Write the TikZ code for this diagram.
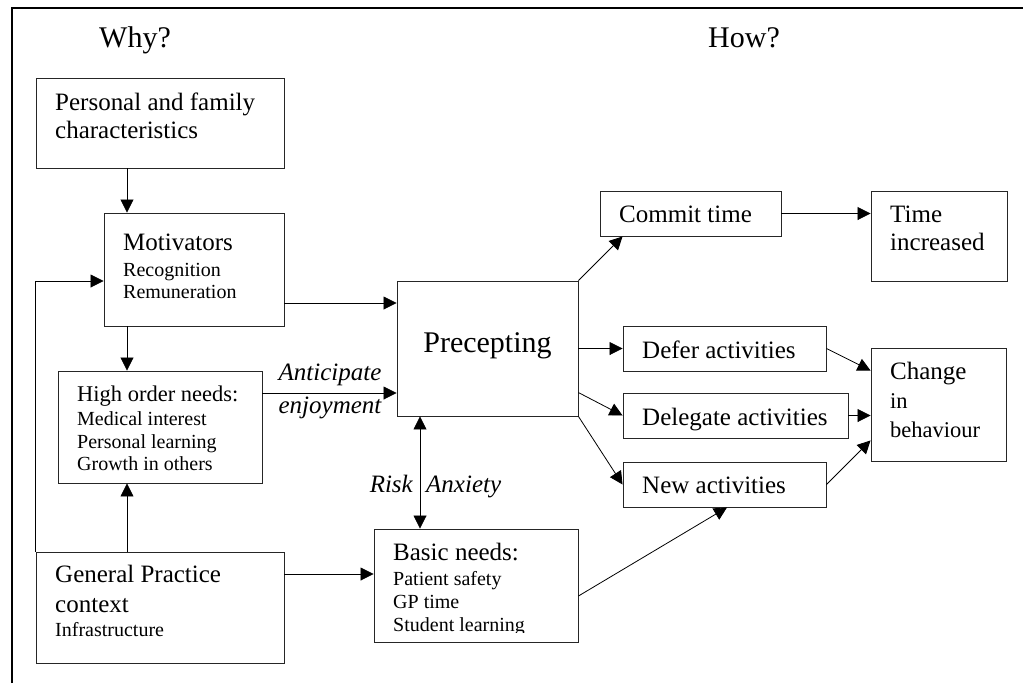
\documentclass[tikz,border=0pt]{standalone}
\usepackage{fontspec}
\setmainfont{Liberation Serif}
\usetikzlibrary{arrows.meta}
\begin{document}
\begin{tikzpicture}[x=1pt,y=-1pt,
 box/.style={draw=black!85, line width=0.9pt, inner sep=0pt},
 arr/.style={-{Triangle[length=13pt,width=13pt]}, line width=0.8pt},
 darr/.style={{Triangle[length=13pt,width=13pt]}-{Triangle[length=13pt,width=13pt]}, line width=0.8pt},
 tl/.style={anchor=base west, inner sep=0pt, font=\fontsize{25}{29}\selectfont},
 tm/.style={anchor=base west, inner sep=0pt, font=\fontsize{22.5}{27}\selectfont},
 ts/.style={anchor=base west, inner sep=0pt, font=\fontsize{20}{24}\selectfont},
 ti/.style={inner sep=0pt, font=\fontsize{25}{29}\selectfont\itshape},
 th/.style={anchor=base, inner sep=0pt, font=\fontsize{30}{34}\selectfont},
]
\useasboundingbox (0,0) rectangle (1023,683);
% outer frame (top and left edges)
\draw[line width=2pt] (12,683) -- (12,8) -- (1023,8);

% headings
\node[th] (why) at (135,47) {Why?};
\node[th] (how) at (744,47) {How?};

% boxes
\node[box, minimum width=248pt, minimum height=90pt]  (pers)    at (160,123)   {};
\node[box, minimum width=180pt, minimum height=113pt] (motiv)   at (194,269.5) {};
\node[box, minimum width=204pt, minimum height=112pt] (high)    at (160,427)   {};
\node[box, minimum width=248pt, minimum height=111pt] (gp)      at (160,607.5) {};
\node[box, minimum width=204pt, minimum height=113pt] (basic)   at (476,585.5) {};
\node[box, minimum width=181pt, minimum height=135pt] (prec)    at (487.5,348.5) {};
\node[box, minimum width=181pt, minimum height=45pt]  (commit)  at (690.5,213.5) {};
\node[box, minimum width=136pt, minimum height=90pt]  (timeinc) at (939,236)   {};
\node[box, minimum width=203pt, minimum height=45pt]  (defer)   at (724.5,348.5) {};
\node[box, minimum width=225pt, minimum height=45pt]  (deleg)   at (735.5,415.5) {};
\node[box, minimum width=203pt, minimum height=45pt]  (newact)  at (724.5,484.5) {};
\node[box, minimum width=135pt, minimum height=113pt] (change)  at (938.5,404.5) {};

% texts
\node[tl] (pers1) at (55,110) {Personal and family};
\node[tl] (pers2) at (55,138) {characteristics};
\node[tl] (mot1) at (123,250) {Motivators};
\node[ts] (mot2) at (123,276) {Recognition};
\node[ts] (mot3) at (123,298) {Remuneration};
\node[tm] (high1) at (77,401) {High order needs:};
\node[ts] (high2) at (77,425) {Medical interest};
\node[ts] (high3) at (77,448) {Personal learning};
\node[ts] (high4) at (77,470) {Growth in others};
\node[tl] (gp1) at (55,582) {General Practice};
\node[tl] (gp2) at (55,612) {context};
\node[ts] (gp3) at (55,636) {Infrastructure};
\node[tl] (bas1) at (393,560) {Basic needs:};
\node[ts] (bas2) at (393,585) {Patient safety};
\node[ts] (bas3) at (393,608) {GP time};
\begin{scope}
\clip (374,529) rectangle (578,632.5);
\node[ts] (bas4) at (393,631) {Student learning};
\end{scope}
\node[th] (prec1) at (487.5,352) {Precepting};
\node[tl] (com1) at (619,222) {Commit time};
\node[tl] (ti1) at (890,222) {Time};
\node[tl] (ti2) at (890,250) {increased};
\node[tl] (def1) at (642,358) {Defer activities};
\node[tl] (del1) at (642,425) {Delegate activities};
\node[tl] (new1) at (642,493) {New activities};
\node[tl] (ch1) at (890,379) {Change};
\node[tm] (ch2) at (890,408) {in};
\node[tm] (ch3) at (890,437) {behaviour};

% helper coordinates
\coordinate (colA) at (127,0);
\coordinate (colB) at (420,0);
\coordinate (fb) at (0,281);
\coordinate (rowM) at (0,303);
\coordinate (rowH) at (0,393);
\coordinate (rowG) at (0,574);

% connectors
\draw[arr] (pers.south -| colA) -- (motiv.north -| colA);
\draw[arr] (gp.north west) -- (gp.north west |- fb) -- (motiv.west |- fb);
\draw[arr] (motiv.east |- rowM) -- (prec.west |- rowM);
\draw[arr] (motiv.south -| colA) -- (high.north -| colA);
\draw[arr] (high.east |- rowH) -- (prec.west |- rowH);
\node[ti, anchor=base] (ant1) at (330,380) {Anticipate};
\node[ti, anchor=base] (ant2) at (330,413) {enjoyment};
\draw[arr] (gp.north -| colA) -- (high.south -| colA);
\draw[arr] (gp.east |- rowG) -- (basic.west |- rowG);
\draw[darr] (prec.south -| colB) -- (basic.north -| colB);
\node[ti, anchor=base east] (risk) at (413,492) {Risk};
\node[ti, anchor=base west] (anx) at (426,492) {Anxiety};
\draw[arr] (prec.north east) -- (commit.south -| defer.west);
\draw[arr] (prec.east |- defer.west) -- (defer.west);
\draw[arr] (prec.east |- deleg.north) -- (deleg.west);
\draw[arr] (prec.south east) -- (newact.west);
\draw[arr] ([yshift=-10.5pt]basic.east) -- ([xshift=2.5pt]newact.south);
\draw[arr] (commit.east) -- (timeinc.west |- commit.east);
\draw[arr] (defer.east) -- ([yshift=-23pt]change.north west);
\draw[arr] (deleg.east) -- (change.west |- deleg.east);
\draw[arr] (newact.east) -- ([yshift=21pt]change.south west);
\end{tikzpicture}
\end{document}
